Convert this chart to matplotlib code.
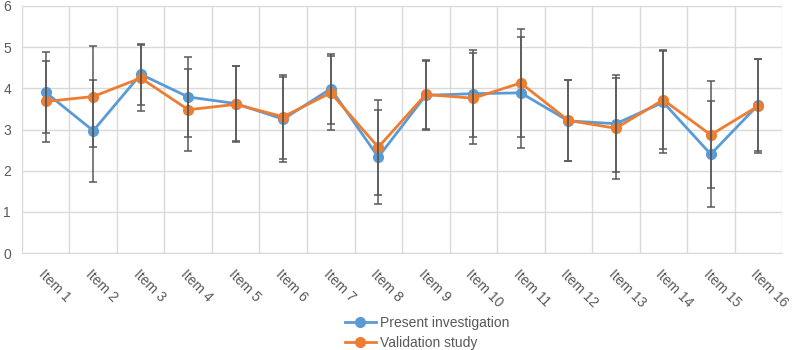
import numpy as np
from matplotlib import pyplot as plt

# values (mean and SD per item)
items = ['Item %d' % i for i in range(1, 17)]
present_mean = [3.90, 2.97, 4.34, 3.79, 3.63, 3.25, 3.99, 2.33,
                3.83, 3.87, 3.89, 3.21, 3.14, 3.66, 2.40, 3.60]
present_sd = [0.99, 1.24, 0.74, 0.96, 0.92, 1.03, 0.85, 1.15,
              0.84, 1.06, 1.35, 0.98, 1.18, 1.24, 1.28, 1.12]
valid_mean = [3.68, 3.80, 4.25, 3.48, 3.61, 3.31, 3.89, 2.57,
              3.85, 3.76, 4.13, 3.22, 3.03, 3.72, 2.87, 3.57]
valid_sd = [0.98, 1.22, 0.80, 0.99, 0.92, 1.02, 0.90, 1.15,
            0.84, 1.10, 1.30, 0.98, 1.22, 1.20, 1.30, 1.13]

plt.rcParams['font.family'] = ['Liberation Sans', 'DejaVu Sans']

fig = plt.figure(figsize=(7.94, 3.5), dpi=100)
ax = fig.add_axes([0.0277, 0.277, 0.9572, 0.706])

x = np.arange(len(items))
blue = '#5B9BD5'
orange = '#ED7D31'
grey = '#595959'

ax.plot(x, present_mean, '-o', color=blue, lw=2.0, ms=7, zorder=3,
        label='Present investigation')
ax.plot(x, valid_mean, '-o', color=orange, lw=2.0, ms=7, zorder=4,
        label='Validation study')
ax.errorbar(x, present_mean, yerr=present_sd, fmt='none', ecolor=grey,
            elinewidth=1.1, capsize=3, capthick=1.1, zorder=5)
ax.errorbar(x, valid_mean, yerr=valid_sd, fmt='none', ecolor=grey,
            elinewidth=1.1, capsize=3, capthick=1.1, zorder=5)

ax.set_xlim(-0.5, len(items) - 0.5)
ax.set_ylim(0, 6)
ax.set_yticks(range(0, 7))
ax.set_xticks(x)
ax.set_xticklabels(items, rotation=-45, ha='left', va='top',
                   rotation_mode='anchor')
ax.set_xticks(np.arange(-0.5, len(items)), minor=True)

ax.grid(True, axis='y', color='#D9D9D9', lw=1.0)
ax.grid(True, axis='x', which='minor', color='#D9D9D9', lw=1.0)
ax.set_axisbelow(True)
for s in ['top', 'right', 'left']:
    ax.spines[s].set_visible(False)
ax.spines['bottom'].set_color('#D9D9D9')

ax.tick_params(axis='both', which='both', length=0, labelcolor=grey,
               labelsize=10)
ax.tick_params(axis='y', pad=8)
ax.tick_params(axis='x', pad=10)

leg = fig.legend(loc='lower center', bbox_to_anchor=(0.538, -0.035), ncol=1,
                 frameon=False, fontsize=10, handlelength=2.2,
                 labelspacing=0.4, handletextpad=0.3)
for t in leg.get_texts():
    t.set_color(grey)

fig.savefig('out.png', dpi=100)
